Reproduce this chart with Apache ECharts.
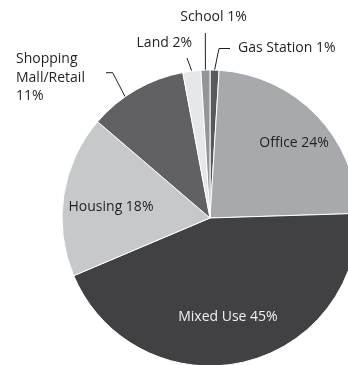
<!DOCTYPE html>
<html><head><meta charset="utf-8">
<script src="https://cdn.jsdelivr.net/npm/echarts@6/dist/echarts.min.js"></script>
<style>html,body{margin:0;padding:0;background:#fff}#c{width:348px;height:365px}</style>
</head><body><div id="c"></div>
<script>
const categories = ['Gas Station','Office','Mixed Use','Housing','Shopping Mall/Retail','Land','School'];
const values = [1, 24, 45, 18, 11, 2, 1];
const labelTexts = ['Gas Station 1%','Office 24%','Mixed Use 45%','Housing 18%','Shopping\nMall/Retail\n11%','Land 2%','School 1%'];
const colors = ['#58595b','#a7a9ac','#414042','#c7c8ca','#616163','#e6e7e8','#939598'];

const CX = 210, CY = 218, R = 148;
const total = values.reduce((a, b) => a + b, 0);
const mids = [];
let acc = 0;
values.forEach(v => { mids.push((acc + v / 2) / total * 2 * Math.PI); acc += v; });
const pt = (a, r) => [CX + r * Math.sin(a), CY - r * Math.cos(a)];
const deg = Math.PI / 180;

// label placement (styling only)
const place = [
  {out: true, da: 0, elbow: [219, 48.5], end: [230, 48.5], text: [238, 48], align: 'left'},
  {out: false, r: 113, off: [3, 4]},
  {out: false, r: 100.6, off: [-3.6, 1]},
  {out: false, r: 99.6, off: [-0.6, 4]},
  {out: true, da: -5 * deg, elbow: [112.7, 72.7], end: [106, 72.7], text: [16, 78], align: 'left'},
  {out: true, da: 0, elbow: [187, 58], end: [187, 58], text: [192, 43], align: 'right'},
  {out: true, da: 0, elbow: [205.3, 33], end: [205.3, 33], text: [213.5, 17], align: 'center'}
];
const textColors = ['#231f20','#231f20','#f1f1f2','#231f20','#231f20','#231f20','#231f20'];

const chart = echarts.init(document.getElementById('c'), null, {renderer: 'canvas'});
chart.setOption({
  animation: false,
  series: [{
    type: 'pie',
    center: [CX, CY],
    radius: R,
    startAngle: 90,
    clockwise: true,
    avoidLabelOverlap: false,
    itemStyle: {borderColor: '#ffffff', borderWidth: 1},
    label: {
      fontFamily: 'Open Sans',
      fontSize: 14,
      lineHeight: 18.5,
      color: '#231f20'
    },
    labelLine: {lineStyle: {color: '#231f20', width: 1}},
    data: categories.map((c, i) => ({
      name: c,
      value: values[i],
      itemStyle: {color: colors[i]},
      label: {
        position: place[i].out ? 'outside' : 'inside',
        formatter: labelTexts[i],
        color: textColors[i]
      },
      labelLine: {show: place[i].out}
    })),
    labelLayout: function (p) {
      const i = p.dataIndex, s = place[i];
      if (!s.out) {
        const q = pt(mids[i], s.r);
        return {x: q[0] + s.off[0], y: q[1] + s.off[1], align: 'center', verticalAlign: 'middle'};
      }
      const a = pt(mids[i] + s.da, R);
      return {
        x: s.text[0], y: s.text[1], align: s.align, verticalAlign: 'middle',
        labelLinePoints: [a, s.elbow, s.end]
      };
    }
  }]
});
</script></body></html>
